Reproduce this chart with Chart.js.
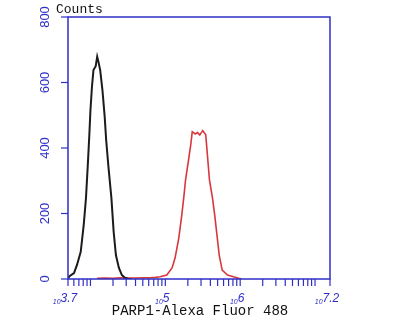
<!DOCTYPE html>
<html>
<head>
<meta charset="utf-8">
<script src="https://cdn.jsdelivr.net/npm/chart.js@4.4.1/dist/chart.umd.min.js"></script>
<style>
  html, body { margin: 0; padding: 0; background: #fff; }
</style>
</head>
<body>
<canvas id="histChart" width="400" height="320"></canvas>
<script>
// Histogram values (x as log10 of intensity, y as counts)
const controlExp    = [3.70, 3.71, 3.78, 3.82, 3.87, 3.91, 3.94, 3.965, 3.985, 4.00, 4.02, 4.04, 4.07, 4.09, 4.11, 4.13, 4.16, 4.19, 4.21, 4.24, 4.28, 4.31, 4.34, 4.38, 4.42, 4.46, 4.50, 4.55];
const controlCounts = [4, 7, 18, 43, 83, 165, 247, 350, 440, 516, 587, 638, 650, 679, 660, 638, 577, 496, 424, 343, 247, 144, 73, 34, 12, 4, 1, 0];

const parpExp    = [4.09, 4.20, 4.30, 4.40, 4.50, 4.60, 4.70, 4.80, 4.87, 4.93, 5.02, 5.09, 5.13, 5.18, 5.22, 5.25, 5.27, 5.31, 5.34, 5.36, 5.40, 5.43, 5.46, 5.50, 5.54, 5.56, 5.59, 5.63, 5.66, 5.69, 5.72, 5.76, 5.83, 5.91, 5.98, 6.02];
const parpCounts = [2, 3, 2, 4, 3, 3, 4, 4, 5, 7, 12, 34, 64, 125, 195, 256, 302, 363, 410, 450, 443, 447, 440, 453, 440, 385, 302, 248, 195, 134, 73, 27, 12, 7, 2, 0];

const yTicks = [0, 200, 400, 600, 800];
const xLabelExps = [3.7, 5, 6, 7.2];
const xLabelTexts = ['3.7', '5', '6', '7.2'];
const xMinExp = 3.7;
const xMaxExp = 7.2;

const axisBlue = '#2f2fc8';

function toPoints(exps, counts) {
    return exps.map((e, i) => ({ x: Math.pow(10, e), y: counts[i] }));
}

// draws the blue frame, ticks and labels using the chart's own scales
const axesPlugin = {
    id: 'flowAxes',
    afterDraw(chart) {
        const ctx = chart.ctx;
        const a = chart.chartArea;
        const xs = chart.scales.x;
        const ys = chart.scales.y;
        ctx.save();
        ctx.strokeStyle = axisBlue;
        ctx.lineWidth = 1.5;
        ctx.strokeRect(a.left, a.top, a.right - a.left, a.bottom - a.top);

        ctx.lineWidth = 1.2;
        // y ticks + rotated labels
        ctx.fillStyle = axisBlue;
        ctx.font = '13px "Liberation Sans", Arial, sans-serif';
        ctx.textAlign = 'center';
        ctx.textBaseline = 'middle';
        yTicks.forEach(v => {
            const py = ys.getPixelForValue(v);
            ctx.beginPath();
            ctx.moveTo(a.left - 7, py);
            ctx.lineTo(a.left, py);
            ctx.stroke();
            ctx.save();
            ctx.translate(45, py);
            ctx.rotate(-Math.PI / 2);
            ctx.fillText(String(v), 0, 0);
            ctx.restore();
        });

        // x ticks: every k * 10^n inside the range, plus both ends
        const tickVals = [Math.pow(10, xMinExp), Math.pow(10, xMaxExp)];
        for (let n = 3; n <= 7; n++) {
            for (let k = 1; k <= 9; k++) {
                const v = k * Math.pow(10, n);
                if (v > Math.pow(10, xMinExp) && v < Math.pow(10, xMaxExp)) tickVals.push(v);
            }
        }
        tickVals.forEach(v => {
            const px = xs.getPixelForValue(v);
            ctx.beginPath();
            ctx.moveTo(px, a.bottom);
            ctx.lineTo(px, a.bottom + 7);
            ctx.stroke();
        });

        // x labels like 10^5 (small "10", larger exponent)
        ctx.textAlign = 'left';
        ctx.textBaseline = 'alphabetic';
        xLabelExps.forEach((e, i) => {
            const px = xs.getPixelForValue(Math.pow(10, e));
            ctx.font = 'italic 7px "Liberation Sans", Arial, sans-serif';
            const w1 = ctx.measureText('10').width;
            ctx.font = 'italic 12px "Liberation Sans", Arial, sans-serif';
            const w2 = ctx.measureText(xLabelTexts[i]).width;
            const x0 = px - 3 - (w1 + w2) / 2;
            ctx.font = 'italic 7px "Liberation Sans", Arial, sans-serif';
            ctx.fillText('10', x0, 304);
            ctx.font = 'italic 12px "Liberation Sans", Arial, sans-serif';
            ctx.fillText(xLabelTexts[i], x0 + w1, 302);
        });

        // titles
        ctx.fillStyle = '#111';
        ctx.font = '13px "Liberation Mono", "Courier New", monospace';
        ctx.fillText('Counts', 56, 13);
        ctx.font = '14px "Liberation Mono", "Courier New", monospace';
        ctx.textAlign = 'center';
        ctx.fillText('PARP1-Alexa Fluor 488', 200, 315);
        ctx.restore();
    }
};

new Chart(document.getElementById('histChart').getContext('2d'), {
    type: 'line',
    data: {
        datasets: [
            {
                label: 'control',
                data: toPoints(controlExp, controlCounts),
                borderColor: '#1c1c1c',
                borderWidth: 2,
                pointRadius: 0,
                tension: 0,
                fill: false
            },
            {
                label: 'PARP1',
                data: toPoints(parpExp, parpCounts),
                borderColor: '#d8383c',
                borderWidth: 1.6,
                pointRadius: 0,
                tension: 0,
                fill: false
            }
        ]
    },
    options: {
        responsive: false,
        animation: false,
        devicePixelRatio: 1,
        layout: { padding: { left: 68, right: 70, top: 17, bottom: 41 } },
        plugins: { legend: { display: false }, tooltip: { enabled: false } },
        scales: {
            x: { type: 'logarithmic', min: Math.pow(10, xMinExp), max: Math.pow(10, xMaxExp), display: false },
            y: { type: 'linear', min: 0, max: 800, display: false }
        }
    },
    plugins: [axesPlugin]
});
</script>
</body>
</html>
